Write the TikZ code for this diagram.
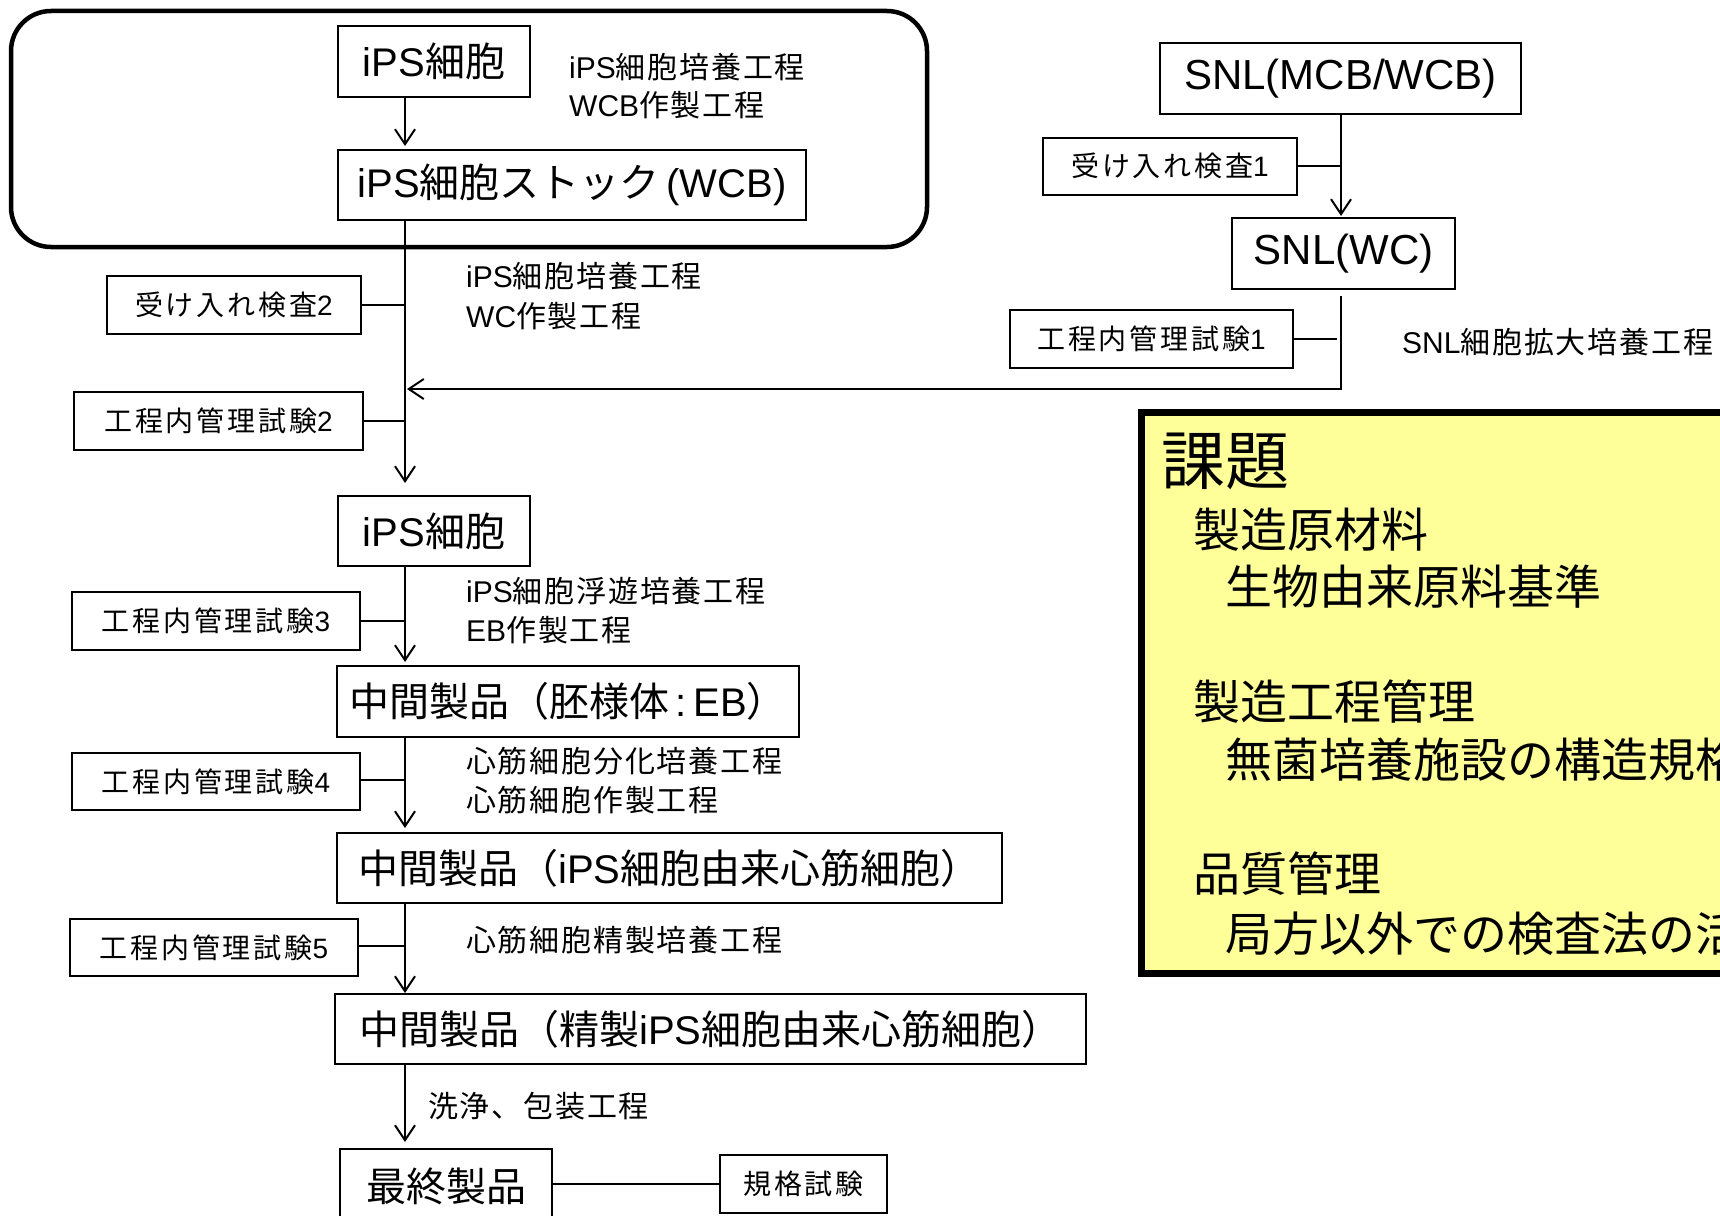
\documentclass[tikz,border=0pt]{standalone}
\usepackage{fontspec}
\setmainfont{Noto Sans CJK JP}
\newfontfamily\latf{Liberation Sans}
\newfontfamily\jpS[LetterSpace=10]{Noto Sans CJK JP}
\newfontfamily\jpM[LetterSpace=6]{Noto Sans CJK JP}
\newcommand\lat[1]{{\latf #1}}
\usetikzlibrary{arrows.meta}
\definecolor{notey}{RGB}{255,255,153}
\begin{document}
\begin{tikzpicture}[x=1pt,y=-1pt,
  box/.style={draw, line width=2pt, inner sep=0pt, align=center},
  bigbox/.style={box, minimum height=70pt, font=\fontsize{40}{48}\selectfont},
  smallbox/.style={box, minimum height=58pt, font=\jpS\fontsize{28}{32}\selectfont},
  side/.style={anchor=west, inner sep=0pt, font=\jpM\fontsize{30}{36}\selectfont},
  ln/.style={line width=2pt},
  arr/.style={ln, -{Straight Barb[length=15pt,width=20pt]}},
  notehead/.style={anchor=west, inner sep=0pt, font=\fontsize{64}{70}\selectfont},
  notetext/.style={anchor=west, inner sep=0pt, font=\fontsize{47}{52}\selectfont}]
\useasboundingbox (0,0) rectangle (1720,1215);
\clip (0,0) rectangle (1720,1215);
\fill[white] (0,0) rectangle (1720,1215);

% axes
\coordinate (ax) at (405,0);
\coordinate (bx) at (1341,0);

% rounded frame
\draw[line width=4.5pt, rounded corners=40pt] (11,11) rectangle (927,247);

% left column
\node[bigbox, minimum width=192pt, minimum height=71pt] (ips1) at (434,61.5) {\lat{iPS}細胞};
\node[bigbox, minimum width=468pt] (stock) at (572,185) {\lat{iPS}細胞ストック\lat{\,(WCB)}};
\node[smallbox, minimum width=254pt] (acc2) at (234,305) {受け入れ検査\lat{2}};
\node[smallbox, minimum width=289pt] (ipc2) at (218.5,421) {工程内管理試験\lat{2}};
\node[bigbox, minimum width=192pt] (ips2) at (434,531) {\lat{iPS}細胞};
\node[smallbox, minimum width=288pt] (ipc3) at (216,621) {工程内管理試験\lat{3}};
\node[bigbox, minimum width=462pt, minimum height=71pt] (eb) at (568,701.5) {中間製品（胚様体\lat{\,:\,EB}）};
\node[smallbox, minimum width=288pt, minimum height=57pt] (ipc4) at (216,781.5) {工程内管理試験\lat{4}};
\node[bigbox, minimum width=665pt] (cm) at (669.5,868) {中間製品（\lat{iPS}細胞由来心筋細胞）};
\node[smallbox, minimum width=288pt, minimum height=57pt] (ipc5) at (214,947.5) {工程内管理試験\lat{5}};
\node[bigbox, minimum width=751pt] (pcm) at (710.5,1029) {中間製品（精製\lat{iPS}細胞由来心筋細胞）};
\node[bigbox, minimum width=212pt, minimum height=74pt] (final) at (446,1186) {最終製品};
\node[smallbox, minimum width=167pt] (spec) at (803.5,1184) {規格試験};

% side labels
\node[side] (l1a) at (569,67) {\lat{iPS}細胞培養工程};
\node[side] (l1b) at (569,105) {\lat{WCB}作製工程};
\node[side] (l2a) at (466,276) {\lat{iPS}細胞培養工程};
\node[side] (l2b) at (466,316) {\lat{WC}作製工程};
\node[side] (l3a) at (466,591) {\lat{iPS}細胞浮遊培養工程};
\node[side] (l3b) at (466,630) {\lat{EB}作製工程};
\node[side] (l4a) at (466,761) {心筋細胞分化培養工程};
\node[side] (l4b) at (466,800) {心筋細胞作製工程};
\node[side] (l5) at (466,940) {心筋細胞精製培養工程};
\node[side] (l6) at (428,1106) {洗浄、包装工程};
\node[side] (l7) at (1402,342) {\lat{SNL}細胞拡大培養工程};

% right column
\node[box, minimum width=361pt, minimum height=71pt, font=\latf\fontsize{42}{50}\selectfont] (snl1) at (1340.5,78.5) {SNL(MCB/WCB)};
\node[smallbox, minimum width=254pt, minimum height=57pt] (acc1) at (1170,166) {受け入れ検査\lat{1}};
\node[box, minimum width=223pt, minimum height=71pt, font=\latf\fontsize{42}{50}\selectfont] (snlwc) at (1343.5,253.5) {SNL(WC)};
\node[smallbox, minimum width=283pt] (ipc1) at (1151.5,339) {工程内管理試験\lat{1}};

% connectors, left column
\draw[arr] (ips1.south -| ax) -- ([yshift=3pt]stock.north -| ax);
\draw[arr] (stock.south -| ax) -- ([yshift=12pt]ips2.north -| ax);
\draw[ln] (acc2.east) -- (acc2.east -| ax);
\draw[ln] (ipc2.east) -- (ipc2.east -| ax);
\draw[arr] (ips2.south -| ax) -- ([yshift=3pt]eb.north -| ax);
\draw[ln] (ipc3.east) -- (ipc3.east -| ax);
\draw[arr] (eb.south -| ax) -- ([yshift=4pt]cm.north -| ax);
\draw[ln] (ipc4.east |- 0,780) -- (ax |- 0,780);
\draw[arr] (cm.south -| ax) -- (pcm.north -| ax);
\draw[ln] (ipc5.east |- 0,946) -- (ax |- 0,946);
\draw[arr] (pcm.south -| ax) -- ([yshift=6pt]final.north -| ax);
\draw[ln] (final.east |- spec.west) -- (spec.west);

% connectors, right column
\coordinate (mrg) at (407,389);
\draw[arr] (snl1.south -| bx) -- ([yshift=1pt]snlwc.north -| bx);
\draw[ln] (acc1.east) -- (acc1.east -| bx);
\draw[arr] ([yshift=-6pt]snlwc.south -| bx) |- (mrg);
\draw[ln, shorten >=4pt] (ipc1.east) -- (ipc1.east -| bx);

% issue box
\draw[line width=7pt, fill=notey] (1141,412) rectangle (1780,973);
\node[notehead] (h0) at (1161,461) {課題};
\node[notetext] (h1) at (1193,530) {製造原材料};
\node[notetext] (h2) at (1225,587) {生物由来原料基準};
\node[notetext] (h3) at (1193,702) {製造工程管理};
\node[notetext] (h4) at (1225,760) {無菌培養施設の構造規格};
\node[notetext] (h5) at (1193,874) {品質管理};
\node[notetext] (h6) at (1225,934) {局方以外での検査法の活用};
\end{tikzpicture}
\end{document}
